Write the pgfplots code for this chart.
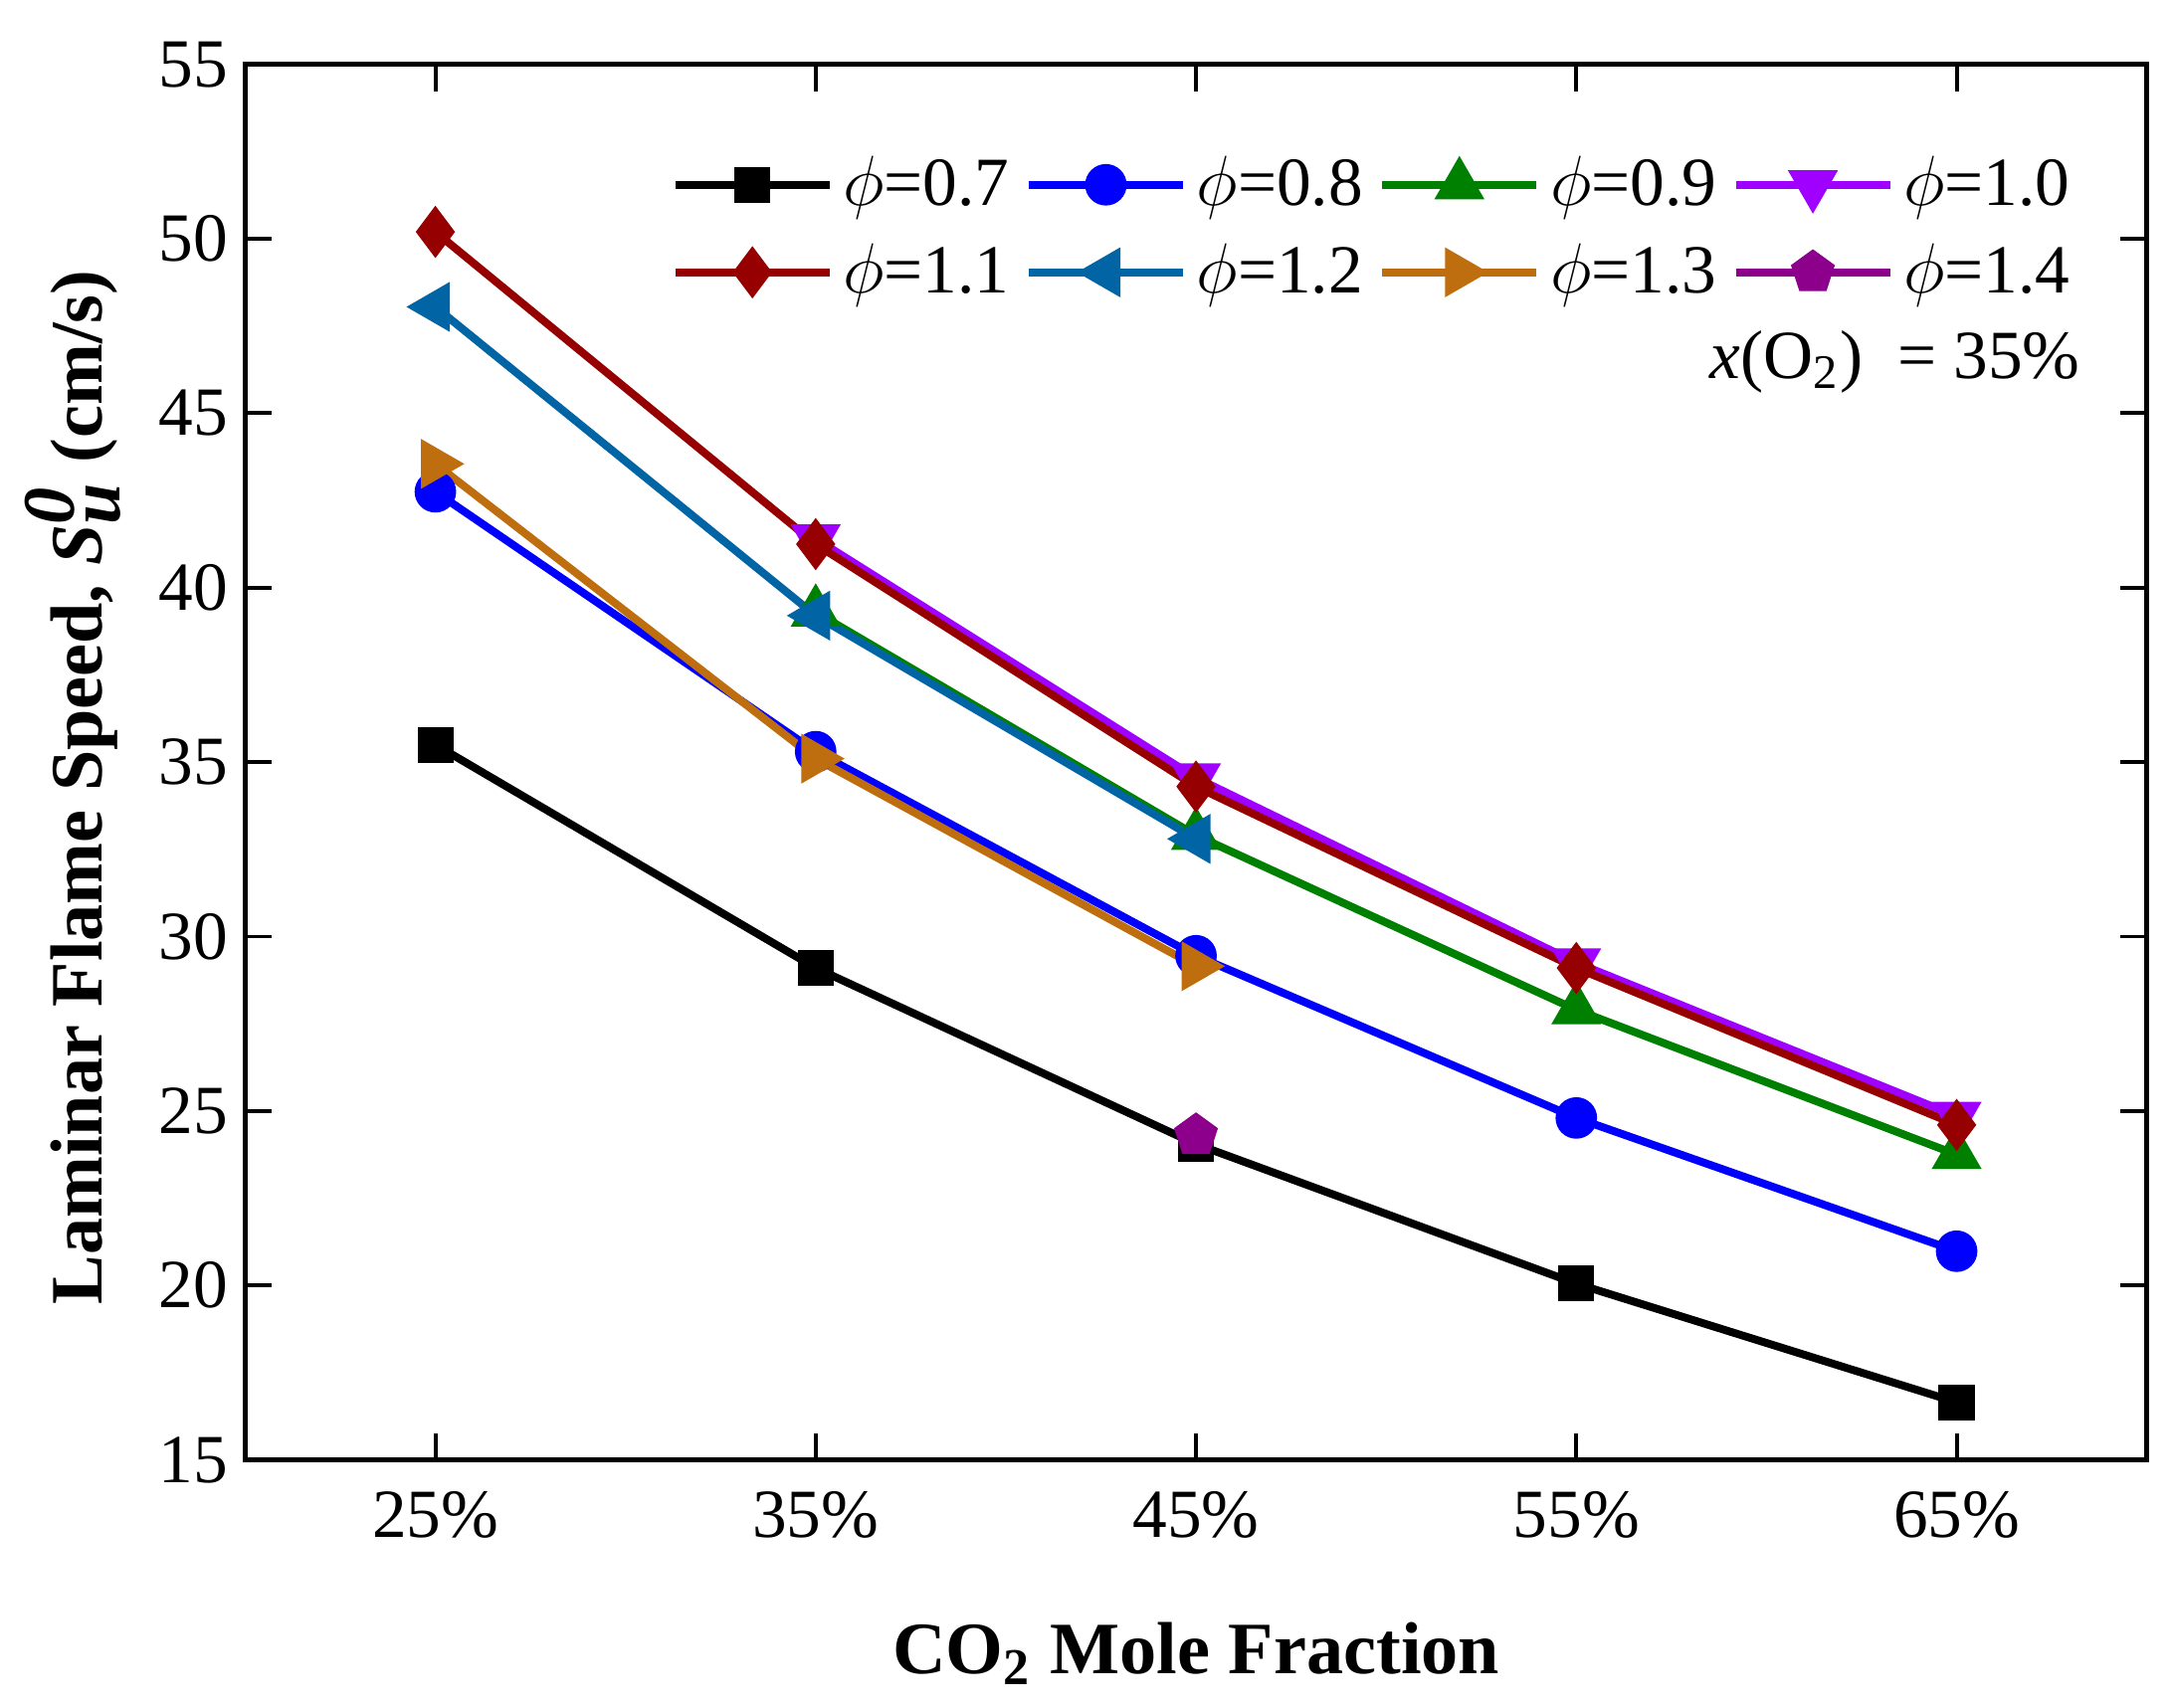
\documentclass[border=0pt]{standalone}
\usepackage{fontspec}
\setmainfont{Liberation Serif}
\usepackage{pgfplots}
\pgfplotsset{compat=1.18}

\definecolor{cviolet}{RGB}{160,0,255}
\definecolor{cdarkred}{RGB}{150,0,0}
\definecolor{csteel}{RGB}{0,100,165}
\definecolor{corange}{RGB}{190,110,15}
\definecolor{cpurple}{RGB}{140,0,140}
\definecolor{cgreen}{RGB}{0,128,0}

% x positions: 0=25%, 1=35%, 2=45%, 3=55%, 4=65%
\begin{document}
\begin{tikzpicture}
\begin{axis}[
    scale only axis, width=13.57cm, height=9.96cm,
    xmin=-0.5, xmax=4.5, ymin=15, ymax=55,
    xtick={0,1,2,3,4},
    xticklabels={25\%,35\%,45\%,55\%,65\%},
    ytick={15,20,...,55},
    xtick pos=both, ytick pos=both,
    tick align=inside,
    major tick length=0.19cm,
    tick style={line width=0.8pt, black},
    axis line style={line width=1pt},
    /pgf/number format/assume math mode=true,
    tick label style={font=\fontsize{14}{16}\selectfont},
    xticklabel style={yshift=-0.1cm},
    xlabel={\textbf{CO\textsubscript{2} Mole Fraction}},
    ylabel={\textbf{Laminar Flame Speed, $\textit{S}_{\textit{u}}^{\textit{0}}$ (cm/s)}},
    label style={font=\fontsize{15}{18}\selectfont},
    xlabel style={at={(axis description cs:0.5,-0.1386)}, anchor=center},
    ylabel style={at={(axis description cs:-0.0906,0.482)}, anchor=center},
    legend columns=4,
    legend cell align=left,
    legend style={draw=none, fill=none, font=\fontsize{14}{16}\selectfont,
        at={(axis description cs:0.2236,0.9418)}, anchor=north west,
        inner sep=0pt, row sep=0.08cm,
        /tikz/every even column/.append style={column sep=0.04cm}},
    legend image code/.code={
        \draw[mark repeat=2,mark phase=2,#1] plot coordinates {(0cm,0cm) (0.55cm,0cm) (1.1cm,0cm)};},
    every axis plot/.append style={line width=1.6pt},
]
\addplot[black, mark=square*, mark size=0.1cm] coordinates {
    (0,35.5) (1,29.1) (2,24.05) (3,20.05) (4,16.65)};
\addlegendentry{$\phi$=0.7}
\addplot[blue, mark=*, mark size=0.12cm] coordinates {
    (0,42.75) (1,35.3) (2,29.45) (3,24.8) (4,20.98)};
\addlegendentry{$\phi$=0.8}
\addplot[cgreen, mark=triangle*, mark size=0.15cm] coordinates {
    (1,39.3) (2,32.9) (3,27.9) (4,23.75)};
\addlegendentry{$\phi$=0.9}
\addplot[cviolet, mark=triangle*, mark size=0.15cm, mark options={rotate=180}] coordinates {
    (1,41.4) (2,34.55) (3,29.25) (4,24.85)};
\addlegendentry{$\phi$=1.0}
\addplot[cdarkred, mark=diamond*, mark size=0.14cm] coordinates {
    (0,50.2) (1,41.25) (2,34.3) (3,29.1) (4,24.6)};
\addlegendentry{$\phi$=1.1}
\addplot[csteel, mark=triangle*, mark size=0.15cm, mark options={rotate=90}] coordinates {
    (0,48.05) (1,39.2) (2,32.8)};
\addlegendentry{$\phi$=1.2}
\addplot[corange, mark=triangle*, mark size=0.15cm, mark options={rotate=-90}] coordinates {
    (0,43.55) (1,35.1) (2,29.15)};
\addlegendentry{$\phi$=1.3}
\addplot[cpurple, mark=pentagon*, mark size=0.13cm] coordinates {
    (2,24.3)};
\addlegendentry{$\phi$=1.4}
\node[anchor=east, inner sep=0pt, font=\fontsize{14}{16}\selectfont]
    at (axis description cs:0.9654,0.787) {\textit{x}(O\textsubscript{2})\enspace= 35\%};
\end{axis}
\pgfresetboundingbox
\path (current axis.south west) ++(-1.75cm,-1.77cm) rectangle ++(15.5cm,12.19cm);
\end{tikzpicture}
\end{document}
